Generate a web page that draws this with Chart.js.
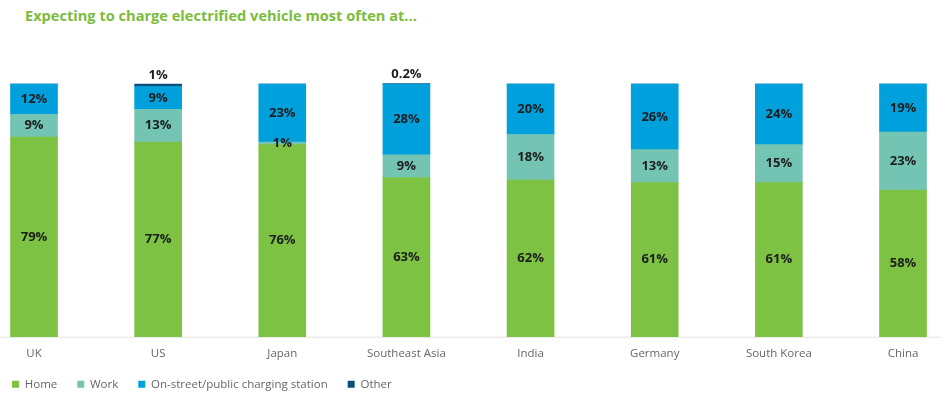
<!DOCTYPE html>
<html>
<head>
<meta charset="utf-8">
<script src="https://cdn.jsdelivr.net/npm/chart.js@4.4.1/dist/chart.umd.min.js"></script>
<style>
	html, body { margin: 0; padding: 0; background: #fff; }
	body { width: 948px; height: 396px; position: relative; overflow: hidden; font-family: "Open Sans", sans-serif; }
	#title { position: absolute; left: 25px; top: 5px; font-size: 14.6px; font-weight: bold; color: #7cbc3a; }
	#wrap { position: absolute; left: -8px; top: 0; width: 956px; height: 396px; }
</style>
</head>
<body>
<div id="title">Expecting to charge electrified vehicle most often at...</div>
<div id="wrap"><canvas id="canvas"></canvas></div>
<script>
var categories = ["UK", "US", "Japan", "Southeast Asia", "India", "Germany", "South Korea", "China"];
var home = [79, 77, 76, 63, 62, 61, 61, 58];
var work = [9, 13, 1, 9, 18, 13, 15, 23];
var onStreet = [12, 9, 23, 28, 20, 26, 24, 19];
var other = [0, 1, 0, 0.2, 0, 0, 0, 0];
var otherLabels = ["", "1%", "", "0.2%", "", "", "", ""];

var seriesNames = ["Home", "Work", "On-street/public charging station", "Other"];
var seriesColors = ["#7dc243", "#74c4b4", "#00a0dc", "#0b4f7c"];

// labels on the segments, "Other" goes above the bar
var valueLabels = {
	id: "valueLabels",
	afterDatasetsDraw: function(chart) {
		var ctx = chart.ctx;
		ctx.save();
		ctx.font = "bold 13px 'Open Sans'";
		ctx.fillStyle = "#1d1d1d";
		ctx.textAlign = "center";
		ctx.textBaseline = "middle";
		chart.data.datasets.forEach(function(ds, di) {
			var meta = chart.getDatasetMeta(di);
			meta.data.forEach(function(bar, i) {
				if (di == 3) {
					if (otherLabels[i]) ctx.fillText(otherLabels[i], bar.x, bar.y - 9);
					return;
				}
				var v = ds.data[i];
				if (!v) return;
				ctx.fillText(v + "%", bar.x, (bar.y + bar.base) / 2);
			});
		});
		ctx.restore();
	}
};

// light baseline running under all bars
var baseLine = {
	id: "baseLine",
	beforeDatasetsDraw: function(chart) {
		var ctx = chart.ctx;
		var y = chart.scales.y.getPixelForValue(0);
		ctx.save();
		ctx.strokeStyle = "#e2e2e2";
		ctx.lineWidth = 1;
		ctx.beginPath();
		ctx.moveTo(8, y + 0.5);
		ctx.lineTo(949, y + 0.5);
		ctx.stroke();
		ctx.restore();
	}
};

// legend sits closer to the axis labels than chart.js would put it
var legendShift = {
	id: "legendShift",
	afterLayout: function(chart) {
		if (chart.legend) {
			chart.legend.top -= 12;
			chart.legend.bottom -= 12;
		}
	}
};

window.onload = function() {
	var datasets = [];
	var values = [home, work, onStreet, other];
	for (var i = 0; i < values.length; i++) {
		datasets.push({
			label: seriesNames[i],
			data: values[i],
			backgroundColor: seriesColors[i],
			barThickness: 47,
			clip: false
		});
	}
	var ctx = document.getElementById("canvas").getContext("2d");
	window.myBar = new Chart(ctx, {
		type: "bar",
		data: { labels: categories, datasets: datasets },
		plugins: [baseLine, valueLabels, legendShift],
		options: {
			responsive: true,
			maintainAspectRatio: false,
			animation: false,
			layout: { padding: { left: 0, right: 45, top: 84, bottom: -16 } },
			scales: {
				x: {
					stacked: true,
					offset: false,
					grid: { display: false, drawTicks: false },
					border: { display: false },
					ticks: { color: "#666", font: { family: "Open Sans", size: 11.5 }, padding: 10, maxRotation: 0, autoSkip: false }
				},
				y: {
					stacked: true,
					min: 0,
					max: 100,
					grid: { display: false, drawTicks: false },
					border: { display: false },
					ticks: { display: false },
					afterFit: function(scale) { scale.width = 42; }
				}
			},
			plugins: {
				legend: {
					position: "bottom",
					align: "start",
					labels: {
						boxWidth: 7,
						boxHeight: 7,
						padding: 20,
						color: "#666",
						font: { family: "Open Sans", size: 11.5 }
					}
				},
				tooltip: { enabled: false }
			}
		}
	});
};
</script>
</body>
</html>
